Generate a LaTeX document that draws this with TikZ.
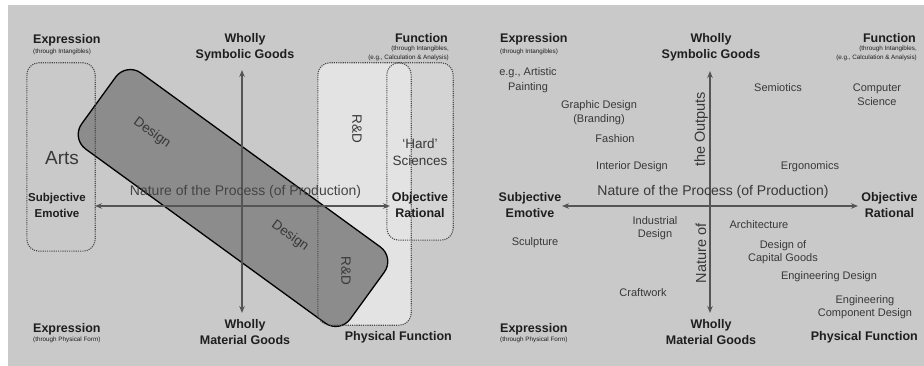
\documentclass[tikz,border=0pt]{standalone}
\usepackage{fontspec}
\setmainfont{Liberation Sans}
\usetikzlibrary{arrows.meta}
\definecolor{panel}{HTML}{C9C9C9}
\definecolor{txt}{HTML}{1E1E1E}
\definecolor{bodyc}{HTML}{383838}
\definecolor{axc}{HTML}{555555}
\definecolor{dotc}{HTML}{4A4A4A}
\definecolor{rdfill}{HTML}{E3E3E3}
\definecolor{dfill}{HTML}{8C8C8C}
\begin{document}
\begin{tikzpicture}[x=1pt,y=-1pt,
  head/.style={font=\fontsize{12.5}{16}\selectfont\bfseries, text=txt, align=center, inner sep=0pt},
  headsm/.style={font=\fontsize{11.5}{16}\selectfont\bfseries, text=txt, align=center, inner sep=0pt},
  bodyt/.style={font=\fontsize{11}{13.5}\selectfont, text=bodyc, align=center, inner sep=0pt},
  tinyt/.style={font=\fontsize{6.3}{9}\selectfont, text=txt, inner sep=0pt},
  bigt/.style={font=\fontsize{14}{17}\selectfont, text=bodyc, align=center, inner sep=0pt},
  boxt/.style={font=\fontsize{13.5}{17}\selectfont, text=bodyc, align=center, inner sep=0pt},
  axisline/.style={draw=axc, line width=1.8pt, {Stealth[length=7pt,width=5.5pt]}-{Stealth[length=7pt,width=5.5pt]}},
  dotbox/.style={draw=dotc, line width=1.1pt, dash pattern=on 1.1pt off 1.1pt, rounded corners=12pt},
  areabox/.style={draw=none, rounded corners=12pt, inner sep=0pt},
  designbox/.style={draw=black, line width=1.3pt, fill=dfill, rounded corners=18pt}
]
\useasboundingbox (0,0) rectangle (924,366);
\fill[white] (0,0) rectangle (924,366);
\fill[panel] (8,5) rectangle (924,366);

% ---------------- left panel: areas ----------------
\node[areabox, minimum width=66pt, minimum height=177pt, fill=white, fill opacity=0.22] (hard) at (420,151.5) {};
\node[areabox, minimum width=93pt, minimum height=262pt, fill=rdfill] (rd) at (364.5,194) {};
\node[areabox, minimum width=68pt, minimum height=188pt] (arts) at (61,157) {};
\coordinate (dc) at (233,198);
\draw[designbox, rotate around={-36:(dc)}] (67,151) rectangle (399,245);

% dotted outlines on top
\draw[dotbox] (arts.north west) rectangle (arts.south east);
\draw[dotbox] (rd.north west) rectangle (rd.south east);
\draw[dotbox] (hard.north west) rectangle (hard.south east);

% box texts
\node[font=\fontsize{19}{22}\selectfont, text=bodyc, inner sep=0pt] (artst) at (62,158) {Arts};
\node[boxt, rotate=-90] (rdt) at (357,129) {R\&D};
\node[boxt] (hardt) at (420,152.5) {‘Hard’\\Sciences};
\node[boxt, rotate=-36] (d1) at (152,133) {Design};
\node[boxt, rotate=-36] (d2) at (290,236) {Design};
\node[boxt, rotate=-90] (rd2) at (346,271) {R\&D};

% axes
\coordinate (LT) at (242,70);
\coordinate (LB) at (242,313);
\coordinate (LL) at (95,206);
\coordinate (LR) at (390,206);
\draw[axisline] (LB) -- (LT);
\draw[axisline] (LL) -- (LR);
\node[bigt, text=axc!80!black] (nat1) at (245.5,192) {Nature of the Process (of Production)};

% headings
\node[head, anchor=west] (exp1) at (33,40) {Expression};
\node[tinyt, anchor=west] (exp1s) at (33,52) {(through Intangibles)};
\node[head] (ws1) at (245,47) {Wholly\\Symbolic Goods};
\node[head, anchor=east] (fn1) at (448,38) {Function};
\node[tinyt, anchor=east, align=right] (fn1s) at (449,53.5) {(through Intangibles,\\(e.g., Calculation \& Analysis)};
\node[headsm] (subj1) at (57,205) {Subjective\\Emotive};
\node[head] (obj1) at (420,205) {Objective\\Rational};
\node[head, anchor=west] (exp2) at (33,329) {Expression};
\node[tinyt, anchor=west] (exp2s) at (33,340) {(through Physical Form)};
\node[head] (wm1) at (245,332) {Wholly\\Material Goods};
\node[head, anchor=east] (pf1) at (452,337) {Physical Function};

% ---------------- right panel ----------------
\coordinate (RT) at (710,71);
\coordinate (RB) at (710,313);
\coordinate (RL) at (562,206);
\coordinate (RR) at (858,206);
\draw[axisline] (RB) -- (RT);
\draw[axisline] (RL) -- (RR);
\node[bigt] (nat2) at (713,192) {Nature of the Process (of Production)};
\node[bigt, font=\fontsize{14.5}{17}\selectfont, rotate=90] (outs) at (701,129.5) {the Outputs};
\node[bigt, font=\fontsize{14.5}{17}\selectfont, rotate=90] (natof) at (701,253.5) {Nature of};

\node[head, anchor=west] (exp3) at (500,39) {Expression};
\node[tinyt, anchor=west] (exp3s) at (500,52) {(through Intangibles)};
\node[head] (ws2) at (711,47) {Wholly\\Symbolic Goods};
\node[head, anchor=east] (fn2) at (916,38) {Function};
\node[tinyt, anchor=east, align=right] (fn2s) at (917,53.5) {(through Intangibles,\\(e.g., Calculation \& Analysis)};
\node[head] (subj2) at (530,205) {Subjective\\Emotive};
\node[head] (obj2) at (889.5,205) {Objective\\Rational};
\node[head, anchor=west] (exp4) at (500,329) {Expression};
\node[tinyt, anchor=west] (exp4s) at (500,340) {(through Physical Form)};
\node[head] (wm2) at (711,332) {Wholly\\Material Goods};
\node[head, anchor=east] (pf2) at (918,337) {Physical Function};

\node[bodyt, font=\fontsize{11}{15}\selectfont] (art) at (528,80.5) {e.g., Artistic\\Painting};
\node[bodyt, font=\fontsize{11}{14}\selectfont] (graph) at (599,113) {Graphic Design\\(Branding)};
\node[bodyt] (fash) at (615,139) {Fashion};
\node[bodyt] (inter) at (632,167) {Interior Design};
\node[bodyt] (semi) at (778,88) {Semiotics};
\node[bodyt, font=\fontsize{11}{14}\selectfont] (comp) at (877,95) {Computer\\Science};
\node[bodyt] (ergo) at (810,167) {Ergonomics};
\node[bodyt, font=\fontsize{11}{13}\selectfont] (ind) at (655,228.5) {Industrial\\Design};
\node[bodyt] (arch) at (759,225) {Architecture};
\node[bodyt] (sculp) at (535,243) {Sculpture};
\node[bodyt, font=\fontsize{11}{13}\selectfont] (capg) at (783,252.5) {Design of\\Capital Goods};
\node[bodyt] (engd) at (829,277) {Engineering Design};
\node[bodyt] (craft) at (643,293) {Craftwork};
\node[bodyt, font=\fontsize{11}{13}\selectfont] (engc) at (865,307.5) {Engineering\\Component Design};
\end{tikzpicture}
\end{document}
